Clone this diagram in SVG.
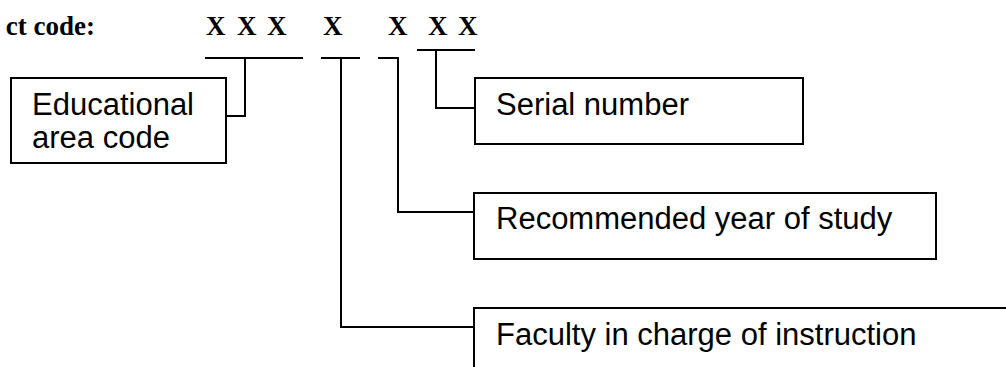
<svg xmlns="http://www.w3.org/2000/svg" width="1006" height="367" viewBox="0 0 1006 367">
<style>
.box{fill:#fff;stroke:#000;stroke-width:2}
.lbl{font-family:"Liberation Sans",Arial,sans-serif;font-size:31px;fill:#000}
.ttl{font-family:"Liberation Serif","Times New Roman",serif;font-size:27px;font-weight:bold;fill:#000}
.con{fill:none;stroke:#000;stroke-width:2}
</style>
<rect width="1006" height="367" fill="#fff"/>
<g id="title">
<text class="ttl" x="95" y="35" text-anchor="end">ct code:</text>
<text class="ttl" y="35"><tspan x="206">X</tspan> <tspan x="237">X</tspan> <tspan x="267">X</tspan> <tspan x="323">X</tspan> <tspan x="388">X</tspan> <tspan x="428">X</tspan> <tspan x="458">X</tspan></text>
</g>
<g id="connectors">
<path class="con" d="M205,58 H303 M245,58 V116 H226"/>
<path class="con" d="M321,58 H360 M341,58 V327 H474"/>
<path class="con" d="M378,58 H398 V212 H474"/>
<path class="con" d="M417,50 H475 M436,50 V108 H475"/>
</g>
<g id="node-educational">
<rect class="box" x="11" y="78" width="215" height="85"/>
<text class="lbl" x="32" y="115">Educational</text>
<text class="lbl" x="32" y="148">area code</text>
</g>
<g id="node-serial">
<rect class="box" x="475" y="78" width="328" height="66"/>
<text class="lbl" x="496" y="115">Serial number</text>
</g>
<g id="node-year">
<rect class="box" x="474" y="193" width="462" height="66"/>
<text class="lbl" x="496" y="229">Recommended year of study</text>
</g>
<g id="node-faculty">
<rect class="box" x="474" y="308" width="600" height="100"/>
<text class="lbl" x="496" y="345">Faculty in charge of instruction</text>
</g>
</svg>
